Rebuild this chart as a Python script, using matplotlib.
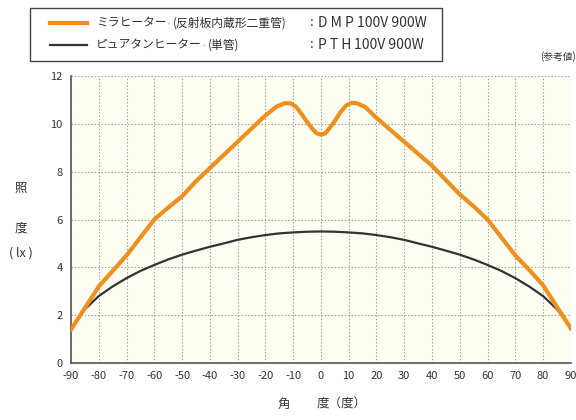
import matplotlib
matplotlib.use("Agg")
import matplotlib.pyplot as plt
from matplotlib.patches import Rectangle
from matplotlib.lines import Line2D

plt.rcParams['font.family'] = ['Noto Sans CJK JP', 'DejaVu Sans']

# ミラヒーター (DMP100V 900W)
mira_deg = [-90, -85, -80, -75, -70, -65, -60, -55, -50, -45, -40, -30, -20, -16, -13, -11, -9, -7, -5, -3, -1.5, 0,
            1.5, 3, 5, 7, 9, 11, 13, 16, 20, 30, 40, 45, 50, 55, 60, 65, 70, 75, 80, 85, 90]
mira_lx = [1.4, 2.3, 3.2, 3.85, 4.5, 5.25, 6.0, 6.5, 6.97, 7.6, 8.15, 9.25, 10.35, 10.72, 10.86, 10.86, 10.72, 10.42, 10.08, 9.78, 9.6, 9.55,
           9.6, 9.8, 10.12, 10.48, 10.76, 10.88, 10.86, 10.7, 10.25, 9.25, 8.25, 7.65, 7.05, 6.55, 6.0, 5.25, 4.5, 3.9, 3.25, 2.35, 1.45]

# ピュアタンヒーター (PTH100V 900W)
pure_deg = [-90, -88, -85, -80, -75, -70, -65, -60, -55, -50, -45, -40, -35, -30, -25, -20, -15, -10, -5, 0,
            5, 10, 15, 20, 25, 30, 35, 40, 45, 50, 55, 60, 65, 70, 75, 80, 85, 88, 90]
pure_lx = [1.4, 1.8, 2.25, 2.8, 3.2, 3.55, 3.85, 4.1, 4.33, 4.53, 4.7, 4.86, 5.0, 5.15, 5.26, 5.35, 5.42, 5.46, 5.49, 5.5,
           5.49, 5.46, 5.42, 5.35, 5.26, 5.15, 5.0, 4.86, 4.7, 4.53, 4.33, 4.1, 3.85, 3.55, 3.2, 2.8, 2.25, 1.8, 1.4]

x_ticks = list(range(-90, 91, 10))
y_ticks = [0, 2, 4, 6, 8, 10, 12]

orange = "#F0901C"
dark = "#333333"
txt = "#333333"

def fx(px):
    return px / 576

def fy(py):
    return 1 - py / 420

fig = plt.figure(figsize=(5.76, 4.2), dpi=100)
ax = fig.add_axes([0.1233, 0.1357, 0.9910 - 0.1233, 0.819 - 0.1357])
ax.set_facecolor("#FEFEF2")

ax.plot(pure_deg, pure_lx, color=dark, lw=1.6, zorder=3)
ax.plot(mira_deg, mira_lx, color=orange, lw=3.0, zorder=4)

ax.set_xlim(-90, 90)
ax.set_ylim(0, 12)
ax.set_xticks(x_ticks)
ax.set_yticks(y_ticks)
ax.set_xticklabels([str(t) for t in x_ticks], fontsize=8, color=txt)
ax.set_yticklabels([str(t) for t in y_ticks], fontsize=8, color=txt)
ax.tick_params(length=0, pad=6)
ax.grid(True, color="#9a9a9a", linestyle=(0, (1.2, 1.8)), linewidth=0.8)
ax.set_axisbelow(True)
for s in ["top", "right"]:
    ax.spines[s].set_visible(False)
for s in ["left", "bottom"]:
    ax.spines[s].set_color("#555555")
    ax.spines[s].set_linewidth(1.2)

# overlay axes for texts outside the plot
ov = fig.add_axes([0, 0, 1, 1])
ov.axis("off")
ov.set_xlim(0, 1)
ov.set_ylim(0, 1)

# y label (vertical stacked)
ov.text(fx(21), fy(188), "照", fontsize=9, ha="center", va="center", color=txt)
ov.text(fx(21), fy(228), "度", fontsize=9, ha="center", va="center", color=txt)
ov.text(fx(21), fy(253), "( lx )", fontsize=9, ha="center", va="center", color=txt)

# x label
ov.text(fx(284), fy(404), "角", fontsize=9, ha="center", va="center", color=txt)
ov.text(fx(317), fy(404), "度（度）", fontsize=9, ha="left", va="center", color=txt)

# legend box
ov.add_patch(Rectangle((fx(30), fy(61)), 412 / 576, 53 / 420, fill=False,
                       edgecolor="#444444", linewidth=1.0))
ov.add_line(Line2D([fx(50), fx(87)], [fy(23), fy(23)], color=orange, lw=3.0))
ov.add_line(Line2D([fx(50), fx(87)], [fy(45), fy(45)], color=dark, lw=1.6))

legend_rows = [
    (23, "ミラヒーター", "(反射板内蔵形二重管)", "D M P"),
    (45, "ピュアタンヒーター", "(単管)", "P T H"),
]
for py, name, note, code in legend_rows:
    t1 = ov.text(fx(96), fy(py), name, fontsize=8.5, ha="left", va="center", color=txt)
    ov.annotate("®", xy=(1, 0.5), xycoords=t1, xytext=(0.8, -1.8),
                textcoords="offset points", fontsize=4, ha="left", va="center", color="#999999")
    ov.annotate(note, xy=(1, 0.5), xycoords=t1, xytext=(4.5, 0),
                textcoords="offset points", fontsize=8.5, ha="left", va="center", color=txt)
    ov.text(fx(310), fy(py), ":", fontsize=9.5, ha="left", va="center", color=txt)
    t2 = ov.text(fx(318), fy(py), code, fontsize=10, ha="left", va="center", color=txt)
    ov.annotate("100V 900W", xy=(1, 0.5), xycoords=t2, xytext=(2, 0),
                textcoords="offset points", fontsize=10, ha="left", va="center", color=txt)

ov.text(fx(576), fy(57), "(参考値)", fontsize=7, ha="right", va="center", color=txt)

fig.savefig("out.png", dpi=100)
